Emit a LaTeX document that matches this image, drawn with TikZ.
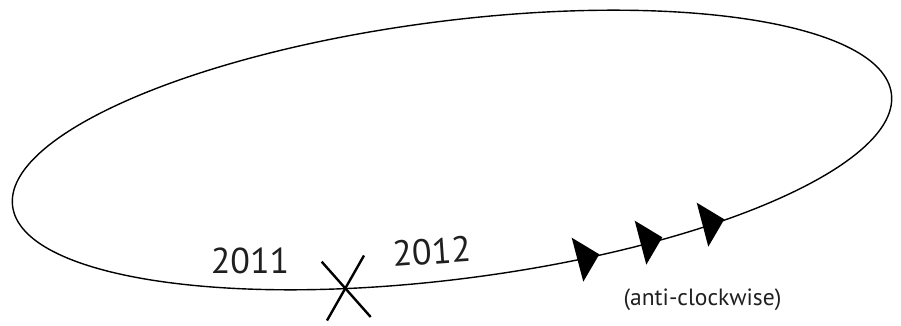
\documentclass[tikz,border=0pt]{standalone}
\usepackage{fontspec}
\setmainfont{PT Sans}
\begin{document}
\begin{tikzpicture}[x=1pt,y=-1pt,
  orbit/.style={line width=1.4pt},
  xmark/.style={line width=2.4pt},
  arrowhead/.style={fill=black},
  yearlabel/.style={font=\fontsize{36}{36}\selectfont, inner sep=0pt, anchor=base, text=black!88},
  notelabel/.style={font=\fontsize{23.5}{23.5}\selectfont, inner sep=0pt, anchor=base, text=black!88}]
\useasboundingbox (0,0) rectangle (901,326);
% orbit
\draw[orbit, rotate around={7.3:(452,150)}] (452,150) ellipse [x radius=443, y radius=129];
% cross
\coordinate (xa1) at (321.7,261.7);
\coordinate (xa2) at (370.7,317);
\coordinate (xb1) at (364,255.5);
\coordinate (xb2) at (327,320.5);
\draw[xmark] (xa1) -- (xa2);
\draw[xmark] (xb1) -- (xb2);
% arrowheads
\foreach \tx/\ty in {599.3/254.3, 662.3/237.3, 724.3/219.3}{
  \fill[arrowhead] (\tx,\ty) -- ++(-27.6,-16.6) -- ++(11.6,44) -- cycle;
}
% labels
\node[yearlabel] (y2011) at (250,273) {2011};
\node[yearlabel, rotate=4] (y2012) at (432.5,264) {2012};
\node[notelabel] (dir) at (702.5,305) {(anti-clockwise)};
\end{tikzpicture}
\end{document}
